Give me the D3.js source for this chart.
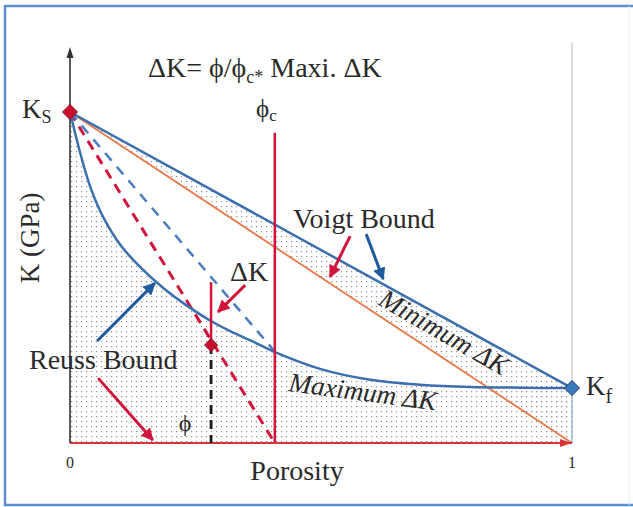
<!DOCTYPE html>
<html><head><meta charset="utf-8">
<script src="https://cdn.jsdelivr.net/npm/d3@7"></script>
<style>
body{margin:0;background:#fff}
svg{display:block}
text{font-family:"Liberation Serif","Times New Roman",serif;fill:#2a2a2a}
</style>
</head><body>
<svg id="chart" width="633" height="507"></svg>
<script>
// ---- data (normalized bulk modulus K/Ks vs porosity) ----
const porosityTicks = [0, 1];
const tickLabels = ["0", "1"];
const Ks = 1.0;
const Kf = 0.166;
const phiC = 0.408;
const phiPoint = 0.281;
const pointK = 0.296;
const deltaTopK = 0.486;
const reussPhi = [0, 0.022, 0.042, 0.068, 0.102, 0.141, 0.187, 0.233, 0.279, 0.319, 0.365, 0.406, 0.498, 0.598, 0.697, 0.797, 0.9, 1];
const reussK   = [1, 0.867, 0.767, 0.677, 0.595, 0.53, 0.467, 0.415, 0.37, 0.338, 0.306, 0.276, 0.224, 0.191, 0.176, 0.169, 0.167, 0.166];
const voigtPhi = [0, 1];
const voigtK   = [Ks, Kf];
const linePhi  = [0, 1];
const lineK    = [Ks, 0];
const critPhi  = [0, phiC];
const critK    = [Ks, 0];
const reussCritK = 0.276;
const blueDashPhi = [0, phiC];
const blueDashK   = [Ks, reussCritK];

const svg = d3.select("#chart");
const x = d3.scaleLinear([0, 1], [70, 572]);
const y = d3.scaleLinear([0, 1], [443, 112]);

const BLUE = "#3b6fae", BLUE_D = "#1f5b9c", RED = "#d2143c", ORANGE = "#e9784a";

// frame
svg.append("line").attr("x1",5).attr("y1",5).attr("x2",5).attr("y2",506).attr("stroke","#5d8fd0").attr("stroke-width",2.5);
svg.append("line").attr("x1",4).attr("y1",6).attr("x2",633).attr("y2",6).attr("stroke","#5d8fd0").attr("stroke-width",2.5);
svg.append("line").attr("x1",4).attr("y1",505).attr("x2",633).attr("y2",505).attr("stroke","#5d8fd0").attr("stroke-width",2.5);
svg.append("line").attr("x1",629).attr("y1",6).attr("x2",629).attr("y2",505).attr("stroke","#eceff3").attr("stroke-width",1);

// stipple pattern
const defs = svg.append("defs");
const pat = defs.append("pattern").attr("id","dots").attr("width",5).attr("height",5).attr("patternUnits","userSpaceOnUse");
pat.append("rect").attr("x",1).attr("y",1).attr("width",1.2).attr("height",1.2).attr("fill","#8f8f8f");
const mk = (id, color) => {
  defs.append("marker").attr("id",id).attr("viewBox","0 0 10 10").attr("refX",9).attr("refY",5)
    .attr("markerWidth",4.2).attr("markerHeight",4.2).attr("orient","auto").attr("markerUnits","strokeWidth")
    .append("path").attr("d","M0,0 L10,5 L0,10 Z").attr("fill",color);
};
mk("arBlue", BLUE_D); mk("arRed", RED);

const reuss = reussPhi.map((p,i)=>[p, reussK[i]]);
const zip = (a,b)=>a.map((v,i)=>[v,b[i]]);
const smooth = d3.curveCatmullRom.alpha(0.5);

// stippled region under Reuss bound
svg.append("path").datum(reuss)
  .attr("d", d3.area().x(d=>x(d[0])).y0(y(0)).y1(d=>y(d[1])).curve(smooth))
  .attr("fill","url(#dots)");
// stippled band between Voigt and straight line
const band = voigtPhi.map((p,i)=>({p, top: voigtK[i], bot: lineK[i]}));
svg.append("path").datum(band)
  .attr("d", d3.area().x(d=>x(d.p)).y0(d=>y(d.bot)).y1(d=>y(d.top)))
  .attr("fill","url(#dots)");

// dotted right boundary at phi = 1
svg.append("line").attr("x1",x(1)).attr("x2",x(1)).attr("y1",y(1.21)).attr("y2",y(Kf))
  .attr("stroke","#777").attr("stroke-width",1).attr("stroke-dasharray","1,1");
svg.append("line").attr("x1",x(1)).attr("x2",x(1)).attr("y1",y(Kf)).attr("y2",y(0))
  .attr("stroke","#7ea6d6").attr("stroke-width",1.2);

const line = d3.line().x(d=>x(d[0])).y(d=>y(d[1]));

// orange straight line Ks -> 0
svg.append("path").datum(zip(linePhi,lineK)).attr("d",line).attr("fill","none").attr("stroke",ORANGE).attr("stroke-width",1.8);
// red dashed Ks -> phiC
svg.append("path").datum(zip(critPhi,critK)).attr("d",line).attr("fill","none").attr("stroke",RED).attr("stroke-width",3).attr("stroke-dasharray","10,7");
// blue dashed Ks -> Reuss(phiC)
svg.append("path").datum(zip(blueDashPhi,blueDashK)).attr("d",line).attr("fill","none").attr("stroke","#4a7cc0").attr("stroke-width",2.5).attr("stroke-dasharray","10,8");
// Voigt bound
svg.append("path").datum(zip(voigtPhi,voigtK)).attr("d",line).attr("fill","none").attr("stroke",BLUE).attr("stroke-width",2.5);
// Reuss bound
svg.append("path").datum(reuss).attr("d",d3.line().x(d=>x(d[0])).y(d=>y(d[1])).curve(smooth)).attr("fill","none").attr("stroke",BLUE).attr("stroke-width",2.5);

// critical porosity line
svg.append("line").attr("x1",x(phiC)).attr("x2",x(phiC)).attr("y1",y(0.937)).attr("y2",y(0))
  .attr("stroke",RED).attr("stroke-width",2.5);

// x-axis (red)
svg.append("line").attr("x1",x(0)).attr("x2",x(1)).attr("y1",y(0)).attr("y2",y(0))
  .attr("stroke","#d8363a").attr("stroke-width",2.2);
svg.append("path").attr("d",`M${x(1)},${y(0)} l-12,-4 l0,8 Z`).attr("fill","#d8363a");
// y-axis with arrow
svg.append("line").attr("x1",x(0)).attr("x2",x(0)).attr("y1",y(0)).attr("y2",y(1.17))
  .attr("stroke","#333").attr("stroke-width",1.6);
svg.append("path").attr("d",`M${x(0)},${y(1.196)} l-3.5,11 l7,0 Z`).attr("fill","#333");

// phi marker: dashed black + red ΔK segment
svg.append("line").attr("x1",x(phiPoint)).attr("x2",x(phiPoint)).attr("y1",y(pointK)).attr("y2",y(0))
  .attr("stroke","#1a1a1a").attr("stroke-width",2.8).attr("stroke-dasharray","9,6");
svg.append("line").attr("x1",x(phiPoint)).attr("x2",x(phiPoint)).attr("y1",y(deltaTopK)).attr("y2",y(pointK))
  .attr("stroke",RED).attr("stroke-width",2.5);

// diamonds
const diamond = (cx, cy, r, fill, stroke) => svg.append("path")
  .attr("d",`M${cx},${cy-r} L${cx+r},${cy} L${cx},${cy+r} L${cx-r},${cy} Z`)
  .attr("fill",fill).attr("stroke",stroke).attr("stroke-width",1);
diamond(x(0), y(Ks), 7.5, "#c8102e", "#8a0a20");
diamond(x(phiPoint), y(pointK), 6.5, "#c8102e", "#8a0a20");
diamond(x(1), y(Kf), 7.5, "#3a7bbd", "#16365e");

// annotation arrows (in data coordinates)
const arrows = [
  {from:[0.590,0.631], to:[0.624,0.495], c:"arBlue", col:BLUE_D},
  {from:[0.558,0.625], to:[0.518,0.502], c:"arRed", col:RED},
  {from:[0.054,0.308], to:[0.169,0.483], c:"arBlue", col:BLUE_D},
  {from:[0.056,0.196], to:[0.165,0.009], c:"arRed", col:RED},
  {from:[0.349,0.477], to:[0.295,0.396], c:"arRed", col:RED}
];
arrows.forEach(a=>{
  svg.append("line").attr("x1",x(a.from[0])).attr("y1",y(a.from[1])).attr("x2",x(a.to[0])).attr("y2",y(a.to[1]))
    .attr("stroke",a.col).attr("stroke-width",3).attr("marker-end",`url(#${a.c})`);
});

// texts
const T = (tx, ty, str, size, opts={}) => {
  const t = svg.append("text").attr("x",tx).attr("y",ty).attr("font-size",size).text(str);
  if (opts.anchor) t.attr("text-anchor",opts.anchor);
  if (opts.italic) t.attr("font-style","italic");
  if (opts.rotate !== undefined) t.attr("transform",`rotate(${opts.rotate},${tx},${ty})`);
  return t;
};
// title
const title = svg.append("text").attr("x",148).attr("y",77).attr("font-size",28);
title.append("tspan").text("ΔK= ϕ/ϕ");
title.append("tspan").attr("font-size",18).attr("dy",6).text("c*");
title.append("tspan").attr("dy",-6).text(" Maxi. ΔK");
// Ks
const ks = svg.append("text").attr("x",22).attr("y",118).attr("font-size",27);
ks.append("tspan").text("K");
ks.append("tspan").attr("font-size",18).attr("dy",5).text("S");
// Kf
const kf = svg.append("text").attr("x",586).attr("y",395).attr("font-size",27);
kf.append("tspan").text("K");
kf.append("tspan").attr("font-size",20).attr("dy",8).text("f");
// phi_c
const pc = svg.append("text").attr("x",256).attr("y",117).attr("font-size",25);
pc.append("tspan").text("ϕ");
pc.append("tspan").attr("font-size",17).attr("dy",4).text("c");

T(39, 238, "K (GPa)", 27, {anchor:"middle", rotate:-90});
T(293, 228, "Voigt Bound", 28);
T(29, 369, "Reuss Bound", 28);
T(249, 281, "ΔK", 28, {anchor:"middle"});
T(377, 304, "Minimum ΔK", 27, {italic:true, rotate:30});
T(288, 391, "Maximum ΔK", 27, {italic:true, rotate:7.5});
T(185, 431, "ϕ", 24, {anchor:"middle"});
T(297, 480, "Porosity", 28, {anchor:"middle"});
porosityTicks.forEach((p,i)=>T(x(p), 468, tickLabels[i], 16, {anchor:"middle"}));
</script>
</body></html>
